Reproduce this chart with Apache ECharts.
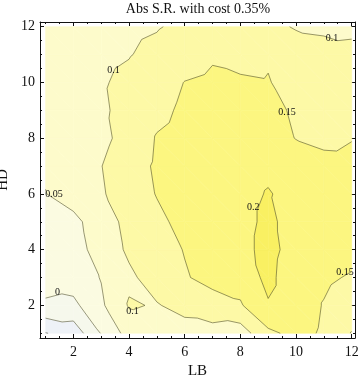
<!DOCTYPE html>
<html>
<head>
<meta charset="utf-8">
<script src="https://cdn.jsdelivr.net/npm/echarts@6/dist/echarts.min.js"></script>
<style>
html, body { margin: 0; padding: 0; background: #fff; }
#chart { width: 360px; height: 380px; }
</style>
</head>
<body>
<div id="chart"></div>
<script>
var lbValues = [1, 2, 3, 4, 5, 6, 7, 8, 9, 10, 11, 12];
var hdValues = [1, 2, 3, 4, 5, 6, 7, 8, 9, 10, 11, 12];
// one row per HD (1..12), one column per LB (1..12)
var hd1 = [-0.102, -0.080, 0.0025, 0.070, 0.078, 0.080, 0.082, 0.075, 0.140, 0.163, 0.145, 0.098];
var hd2 = [-0.006, -0.012, 0.042, 0.104, 0.097, 0.115, 0.130, 0.145, 0.196, 0.170, 0.148, 0.130];
var hd3 = [0.017, 0.025, 0.052, 0.091, 0.121, 0.146, 0.165, 0.170, 0.212, 0.170, 0.157, 0.146];
var hd4 = [0.028, 0.030, 0.070, 0.108, 0.130, 0.152, 0.170, 0.185, 0.215, 0.180, 0.175, 0.165];
var hd5 = [0.040, 0.038, 0.075, 0.115, 0.140, 0.163, 0.175, 0.185, 0.210, 0.180, 0.175, 0.170];
var hd6 = [0.049, 0.070, 0.095, 0.125, 0.152, 0.165, 0.175, 0.185, 0.203, 0.185, 0.180, 0.175];
var hd7 = [0.055, 0.075, 0.099, 0.130, 0.156, 0.168, 0.175, 0.180, 0.190, 0.170, 0.158, 0.157];
var hd8 = [0.060, 0.080, 0.088, 0.118, 0.153, 0.165, 0.170, 0.168, 0.165, 0.149, 0.144, 0.149];
var hd9 = [0.065, 0.080, 0.093, 0.115, 0.138, 0.158, 0.165, 0.163, 0.160, 0.145, 0.138, 0.140];
var hd10 = [0.068, 0.082, 0.096, 0.110, 0.130, 0.151, 0.158, 0.155, 0.152, 0.135, 0.125, 0.125];
var hd11 = [0.070, 0.080, 0.090, 0.098, 0.112, 0.130, 0.145, 0.138, 0.146, 0.120, 0.110, 0.105];
var hd12 = [0.072, 0.078, 0.085, 0.090, 0.097, 0.110, 0.118, 0.118, 0.110, 0.097, 0.095, 0.096];
var srRows = [hd1, hd2, hd3, hd4, hd5, hd6, hd7, hd8, hd9, hd10, hd11, hd12];

var contourLevels = [-0.1, -0.05, 0, 0.05, 0.1, 0.15, 0.2];
var bandColors = ["#e7ecf6", "#eef2f7", "#f6f8ec", "#fbfbe1", "#fdfbcb", "#fdf9a6", "#fcf680", "#f9f062"];
// label text, LB, HD
var contourLabels = [
    ["0.05", 1.30, 5.98],
    ["0", 1.43, 2.48],
    ["0.1", 3.44, 10.45],
    ["0.1", 11.29, 11.6],
    ["0.15", 9.68, 8.94],
    ["0.2", 8.46, 5.53],
    ["0.15", 11.76, 3.2],
    ["0.1", 4.12, 1.8]
];
var majorTicks = [2, 4, 6, 8, 10, 12];
var minorTicks = [1, 1.5, 2, 2.5, 3, 3.5, 4, 4.5, 5, 5.5, 6, 6.5, 7, 7.5, 8, 8.5, 9, 9.5, 10, 10.5, 11, 11.5, 12];

var serif = "Liberation Serif";

// cells: lower-left corner of every grid square
var cells = [];
for (var j = 0; j < hdValues.length - 1; j++) {
    for (var i = 0; i < lbValues.length - 1; i++) {
        cells.push([lbValues[i], hdValues[j]]);
    }
}

function pt(i, j) {
    return [lbValues[i], hdValues[j], srRows[j][i]];
}

// split each square along the down-right diagonal
function triangles(lb, hd) {
    var i = lbValues.indexOf(lb), j = hdValues.indexOf(hd);
    var a = pt(i, j), b = pt(i + 1, j), c = pt(i + 1, j + 1), d = pt(i, j + 1);
    return [[a, b, d], [b, c, d]];
}

// keep part of polygon above (or below) a level, linear on the triangle
function clip(poly, level, above) {
    var out = [];
    for (var k = 0; k < poly.length; k++) {
        var cur = poly[k], nxt = poly[(k + 1) % poly.length];
        var curIn = above ? cur[2] >= level : cur[2] <= level;
        var nxtIn = above ? nxt[2] >= level : nxt[2] <= level;
        if (curIn) out.push(cur);
        if (curIn != nxtIn) {
            var t = (level - cur[2]) / (nxt[2] - cur[2]);
            out.push([cur[0] + t * (nxt[0] - cur[0]), cur[1] + t * (nxt[1] - cur[1]), level]);
        }
    }
    return out;
}

function renderFill(params, api) {
    var tris = triangles(api.value(0), api.value(1));
    var children = [];
    tris.forEach(function (tri) {
        for (var b = 0; b < bandColors.length; b++) {
            var poly = tri;
            if (b > 0) poly = clip(poly, contourLevels[b - 1], true);
            if (b < contourLevels.length) poly = clip(poly, contourLevels[b], false);
            if (poly.length < 3) continue;
            children.push({
                type: "polygon",
                shape: { points: poly.map(function (p) { return api.coord([p[0], p[1]]); }) },
                style: { fill: bandColors[b], stroke: bandColors[b], lineWidth: 0.6 },
                silent: true
            });
        }
    });
    return { type: "group", children: children };
}

function renderLines(params, api) {
    var tris = triangles(api.value(0), api.value(1));
    var children = [];
    tris.forEach(function (tri) {
        contourLevels.forEach(function (level) {
            var hits = [];
            for (var k = 0; k < 3; k++) {
                var p = tri[k], q = tri[(k + 1) % 3];
                if ((p[2] < level) != (q[2] < level)) {
                    var t = (level - p[2]) / (q[2] - p[2]);
                    hits.push(api.coord([p[0] + t * (q[0] - p[0]), p[1] + t * (q[1] - p[1])]));
                }
            }
            if (hits.length == 2) {
                children.push({
                    type: "line",
                    shape: { x1: hits[0][0], y1: hits[0][1], x2: hits[1][0], y2: hits[1][1] },
                    style: { stroke: "rgba(70,70,40,0.55)", lineWidth: 1 },
                    silent: true
                });
            }
        });
    });
    return { type: "group", children: children };
}

function renderLabel(params, api) {
    var p = api.coord([api.value(1), api.value(2)]);
    return {
        type: "text",
        x: p[0], y: p[1],
        style: {
            text: contourLabels[params.dataIndex][0],
            fill: "#111",
            font: "10px '" + serif + "'",
            align: "center",
            verticalAlign: "middle"
        },
        silent: true
    };
}

function xAx(pos, ticks, len, main) {
    return {
        type: "value", position: pos, min: 0.8, max: 12.12,
        axisLine: { show: main, onZero: false, lineStyle: { color: "#111", width: 1 } },
        axisTick: { show: true, inside: true, length: len, customValues: ticks, lineStyle: { color: "#111" } },
        axisLabel: {
            show: pos == "bottom" && main, customValues: majorTicks, margin: 7,
            fontFamily: serif, fontSize: 14, color: "#111"
        },
        splitLine: { show: false },
        name: pos == "bottom" && main ? "LB" : "",
        nameLocation: "middle", nameGap: 25,
        nameTextStyle: { fontFamily: serif, fontSize: 15, color: "#111" }
    };
}

function yAx(pos, ticks, len, main) {
    return {
        type: "value", position: pos, min: 0.83, max: 12.17,
        axisLine: { show: main, onZero: false, lineStyle: { color: "#111", width: 1 } },
        axisTick: { show: true, inside: true, length: len, customValues: ticks, lineStyle: { color: "#111" } },
        axisLabel: {
            show: pos == "left" && main, customValues: majorTicks, margin: 5,
            fontFamily: serif, fontSize: 14, color: "#111"
        },
        splitLine: { show: false },
        name: pos == "left" && main ? "HD" : "",
        nameLocation: "middle", nameGap: 22,
        nameTextStyle: { fontFamily: serif, fontSize: 15, color: "#111" }
    };
}

var chart = echarts.init(document.getElementById("chart"));
var option = {
    animation: false,
    title: {
        text: "Abs S.R. with cost 0.35%",
        left: 198, top: 2, padding: 0, textAlign: "center",
        textStyle: { fontFamily: serif, fontSize: 14, fontWeight: "normal", color: "#111" }
    },
    grid: { left: 40, right: 5, top: 22, bottom: 42, outerBoundsMode: "none", containLabel: false },
    xAxis: [xAx("bottom", majorTicks, 4, true), xAx("bottom", minorTicks, 2, false),
        xAx("top", majorTicks, 4, true), xAx("top", minorTicks, 2, false)],
    yAxis: [yAx("left", majorTicks, 4, true), yAx("left", minorTicks, 2, false),
        yAx("right", majorTicks, 4, true), yAx("right", minorTicks, 2, false)],
    series: [{
        type: "custom",
        renderItem: renderFill,
        data: cells,
        encode: { x: 0, y: 1 },
        z: 1
    }, {
        type: "custom",
        renderItem: renderLines,
        data: cells,
        encode: { x: 0, y: 1 },
        z: 2
    }, {
        type: "custom",
        renderItem: renderLabel,
        data: contourLabels,
        encode: { x: 1, y: 2 },
        z: 3
    }]
};
chart.setOption(option, true);
</script>
</body>
</html>
